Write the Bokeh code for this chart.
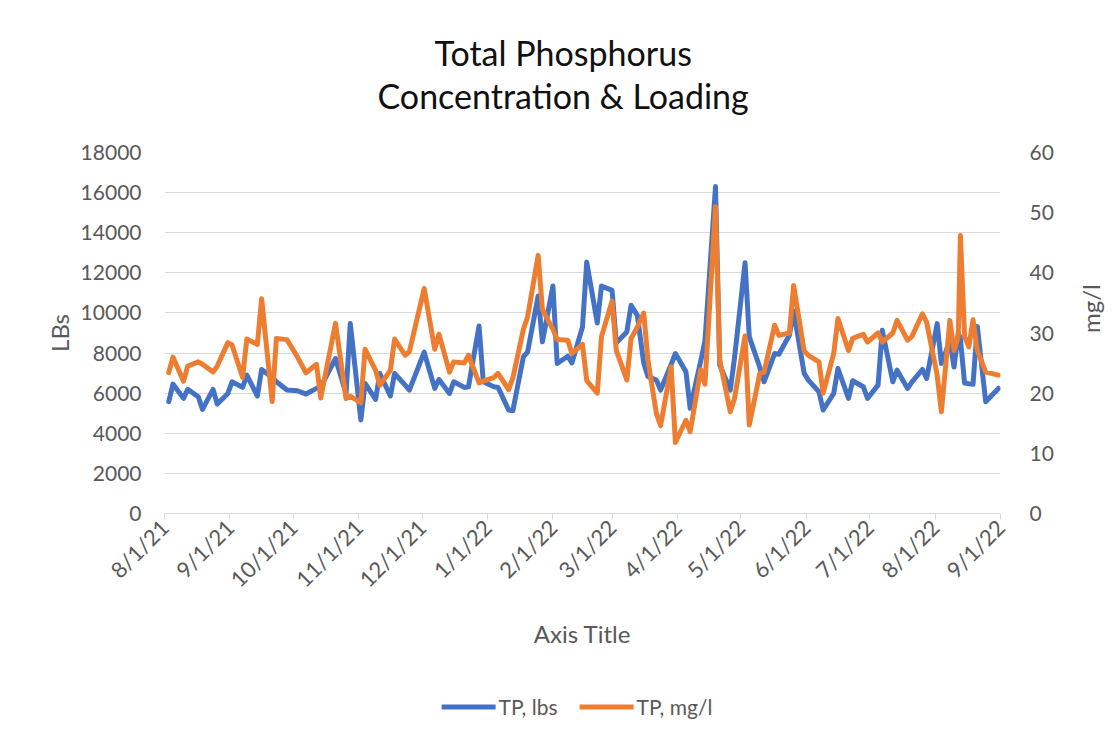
import math
import pandas as pd
from bokeh.plotting import figure
from bokeh.layouts import column
from bokeh.models import (ColumnDataSource, Range1d, LinearAxis, FixedTicker,
                          CustomJSTickFormatter, Legend, LegendItem, Title)
from bokeh.embed import file_html
from bokeh.resources import INLINE

dates = [
    "2021-08-03", "2021-08-05", "2021-08-10", "2021-08-12", "2021-08-17", "2021-08-19",
    "2021-08-24", "2021-08-26", "2021-08-31", "2021-09-02", "2021-09-07", "2021-09-09",
    "2021-09-14", "2021-09-16", "2021-09-21", "2021-09-23", "2021-09-28", "2021-10-03",
    "2021-10-07", "2021-10-12", "2021-10-14", "2021-10-21", "2021-10-26", "2021-10-28",
    "2021-11-02", "2021-11-04", "2021-11-09", "2021-11-11", "2021-11-16", "2021-11-18",
    "2021-11-23", "2021-11-25", "2021-12-02", "2021-12-07", "2021-12-09", "2021-12-14",
    "2021-12-16", "2021-12-21", "2021-12-23", "2021-12-28", "2021-12-30", "2022-01-04",
    "2022-01-06", "2022-01-11", "2022-01-13", "2022-01-18", "2022-01-20", "2022-01-25",
    "2022-01-27", "2022-02-01", "2022-02-03", "2022-02-08", "2022-02-10", "2022-02-15",
    "2022-02-17", "2022-02-22", "2022-02-24", "2022-03-01", "2022-03-03", "2022-03-08",
    "2022-03-10", "2022-03-13", "2022-03-16", "2022-03-18", "2022-03-22", "2022-03-24",
    "2022-03-29", "2022-03-31", "2022-04-05", "2022-04-07", "2022-04-12", "2022-04-14",
    "2022-04-19", "2022-04-21", "2022-04-26", "2022-04-28", "2022-05-03", "2022-05-05",
    "2022-05-10", "2022-05-12", "2022-05-17", "2022-05-19", "2022-05-24", "2022-05-26",
    "2022-05-31", "2022-06-02", "2022-06-07", "2022-06-09", "2022-06-14", "2022-06-16",
    "2022-06-21", "2022-06-23", "2022-06-28", "2022-06-30", "2022-07-05", "2022-07-07",
    "2022-07-12", "2022-07-14", "2022-07-19", "2022-07-21", "2022-07-26", "2022-07-28",
    "2022-08-02", "2022-08-04", "2022-08-08", "2022-08-10", "2022-08-12", "2022-08-13",
    "2022-08-15", "2022-08-17", "2022-08-19", "2022-08-21", "2022-08-25", "2022-08-31",
]

tp_lbs = [
    5574, 6452, 5740, 6187, 5823, 5193,
    6187, 5458, 5988, 6568, 6287, 6900,
    5856, 7181, 6784, 6568, 6154, 6120,
    5955, 6237, 6320, 7728, 5988, 9468,
    4663, 6486, 5690, 6983, 5856, 6983,
    6403, 6154, 8043, 6237, 6684, 5988,
    6568, 6287, 6320, 9352, 6568, 6320,
    6287, 5160, 5127, 7811, 8060, 10843,
    8557, 11340, 7480, 7844, 7513, 9302,
    12534, 9501, 11340, 11125, 8507, 9054,
    10380, 9882, 7500, 6834, 6651, 6154,
    7430, 7977, 7065, 5243, 7600, 8600,
    16300, 7400, 6154, 7745, 12500, 8805,
    7281, 6568, 7977, 7944, 8888, 10100,
    6983, 6651, 6071, 5160, 5988, 7231,
    5740, 6618, 6320, 5740, 6403, 9137,
    6568, 7148, 6237, 6552, 7181, 6734,
    9468, 7480, 8600, 7300, 9000, 8700,
    6500, 6470, 6450, 9330, 5574, 6237,
]

tp_mgl = [
    23.4, 26.0, 22.0, 24.5, 25.2, 24.8,
    23.5, 24.5, 28.4, 28.0, 22.6, 29.0,
    28.1, 35.7, 18.6, 29.1, 28.9, 26.0,
    23.4, 24.8, 19.2, 31.6, 19.1, 19.5,
    18.4, 27.3, 23.8, 21.3, 23.8, 29.0,
    26.3, 26.9, 37.4, 27.3, 29.8, 23.5,
    25.2, 25.0, 26.3, 21.7, 22.0, 22.6,
    23.3, 20.6, 22.5, 30.6, 32.7, 42.9,
    33.9, 30.6, 28.9, 28.8, 26.6, 28.1,
    22.1, 20.0, 29.4, 35.3, 27.1, 22.2,
    29.1, 31.0, 33.3, 25.5, 16.6, 14.6,
    24.4, 11.8, 15.5, 13.6, 23.9, 21.5,
    51.0, 25.5, 16.9, 19.1, 29.5, 14.7,
    23.3, 23.5, 31.3, 29.6, 30.0, 37.9,
    27.0, 26.3, 25.2, 20.0, 26.6, 32.4,
    27.1, 29.1, 29.8, 28.5, 30.0, 28.5,
    30.0, 32.1, 28.8, 29.4, 33.2, 31.8,
    23.0, 16.9, 32.1, 27.1, 29.4, 46.2,
    29.4, 27.7, 32.2, 27.1, 23.5, 23.0,
]

month_ticks = [
    "2021-08-01", "2021-09-01", "2021-10-01", "2021-11-01", "2021-12-01",
    "2022-01-01", "2022-02-01", "2022-03-01", "2022-04-01", "2022-05-01",
    "2022-06-01", "2022-07-01", "2022-08-01", "2022-09-01",
]
lbs_ticks = [0, 2000, 4000, 6000, 8000, 10000, 12000, 14000, 16000, 18000]
mgl_ticks = [0, 10, 20, 30, 40, 50, 60]
series_labels = ["TP, lbs", "TP, mg/l"]

FONT = "Lato"
GREY = "#595959"
GRID = "#D9D9D9"
BLUE = "#4472C4"
ORANGE = "#ED7D31"

src = ColumnDataSource(dict(date=pd.to_datetime(dates), lbs=tp_lbs, mgl=tp_mgl))
tick_ms = [pd.Timestamp(s).value // 10**6 for s in month_ticks]
x_start = pd.Timestamp(month_ticks[0])
x_end = pd.Timestamp(month_ticks[-1])

# ---------------- main chart ----------------
p = figure(title=None, x_axis_type="datetime", frame_width=836, frame_height=361,
           min_border_left=164, min_border_right=112, min_border_top=152,
           min_border_bottom=168,
           x_range=Range1d(x_start, x_end), y_range=Range1d(0, 18000),
           output_backend="svg", toolbar_location=None)
p.extra_y_ranges = {"mgl": Range1d(0, 60)}
p.outline_line_color = None
p.background_fill_color = "white"
p.border_fill_color = "white"

title_lines = ["Total Phosphorus", "Concentration & Loading"]
spacer = Title(text=" ", text_font_size="10px", standoff=24)
t2 = Title(text=title_lines[1], align="left", offset=213, standoff=0,
           text_font=FONT, text_font_size="34px", text_font_style="normal",
           text_color="#111111")
t1 = Title(text=title_lines[0], align="left", offset=270, standoff=0,
           text_font=FONT, text_font_size="34px", text_font_style="normal",
           text_color="#111111")
p.add_layout(spacer, "above")
p.add_layout(t2, "above")
p.add_layout(t1, "above")

p.xgrid.visible = False
p.ygrid.ticker = FixedTicker(ticks=lbs_ticks)
p.ygrid.grid_line_color = GRID
p.ygrid.grid_line_width = 1

xa = p.xaxis[0]
xa.ticker = FixedTicker(ticks=tick_ms)
xa.formatter = CustomJSTickFormatter(code="""
const d = new Date(tick);
return (d.getUTCMonth() + 1) + "/" + d.getUTCDate() + "/" + String(d.getUTCFullYear()).slice(2);
""")
xa.major_label_orientation = math.pi / 4
xa.axis_line_color = GRID
xa.major_tick_line_color = GRID
xa.major_tick_in = 0
xa.major_tick_out = 6
xa.minor_tick_line_color = None
xa.major_label_text_font = FONT
xa.major_label_text_font_size = "22px"
xa.major_label_text_color = GREY
xa.major_label_standoff = 4
xa.axis_label = "Axis Title"
xa.axis_label_text_font = FONT
xa.axis_label_text_font_size = "24px"
xa.axis_label_text_font_style = "normal"
xa.axis_label_text_color = GREY
xa.axis_label_standoff = 14

ya = p.yaxis[0]
ya.ticker = FixedTicker(ticks=lbs_ticks)
ya.axis_line_color = None
ya.major_tick_line_color = None
ya.major_tick_out = 0
ya.major_tick_in = 0
ya.minor_tick_line_color = None
ya.major_label_text_font = FONT
ya.major_label_text_font_size = "21px"
ya.major_label_text_color = GREY
ya.major_label_standoff = 23
ya.axis_label = "LBs"
ya.axis_label_text_font = FONT
ya.axis_label_text_font_size = "24px"
ya.axis_label_text_font_style = "normal"
ya.axis_label_text_color = GREY
ya.axis_label_standoff = 4

ra = LinearAxis(y_range_name="mgl", ticker=FixedTicker(ticks=mgl_ticks))
ra.axis_line_color = None
ra.major_tick_line_color = None
ra.minor_tick_line_color = None
ra.major_label_text_font = FONT
ra.major_label_text_font_size = "21px"
ra.major_label_text_color = GREY
ra.major_label_standoff = 23
ra.axis_label = "mg/l"
ra.axis_label_text_font = FONT
ra.axis_label_text_font_size = "24px"
ra.axis_label_text_font_style = "normal"
ra.axis_label_text_color = GREY
ra.axis_label_standoff = 34
ra.axis_label_orientation = math.pi / 2
p.add_layout(ra, "right")

p.line("date", "lbs", source=src, color=BLUE, line_width=5,
       line_join="round", line_cap="round")
p.line("date", "mgl", source=src, color=ORANGE, line_width=5,
       line_join="round", line_cap="round", y_range_name="mgl")

# ---------------- legend strip below the chart ----------------
lg = figure(width=1112, height=50, x_axis_type="datetime",
            x_range=Range1d(x_start, x_end), y_range=Range1d(-10, -5),
            min_border_left=30, min_border_right=0, min_border_top=0,
            min_border_bottom=0, x_axis_location=None, y_axis_location=None,
            output_backend="svg", toolbar_location=None)
lg.outline_line_color = None
lg.grid.visible = False
lg.background_fill_color = "white"
lg.border_fill_color = "white"
k1 = lg.line("date", "lbs", source=src, color=BLUE, line_width=5, line_cap="round")
k2 = lg.line("date", "mgl", source=src, color=ORANGE, line_width=5, line_cap="round")

legend = Legend(items=[LegendItem(label=series_labels[0], renderers=[k1]),
                       LegendItem(label=series_labels[1], renderers=[k2])],
                orientation="horizontal", location="center")
legend.border_line_color = None
legend.background_fill_alpha = 0
legend.label_text_font = FONT
legend.label_text_font_size = "21px"
legend.label_text_color = GREY
legend.glyph_width = 54
legend.glyph_height = 20
legend.label_standoff = 3
legend.spacing = 22
legend.padding = 0
legend.margin = 0
lg.add_layout(legend)

layout = column(p, lg, spacing=0)
open("out.html", "w").write(file_html(layout, INLINE))
